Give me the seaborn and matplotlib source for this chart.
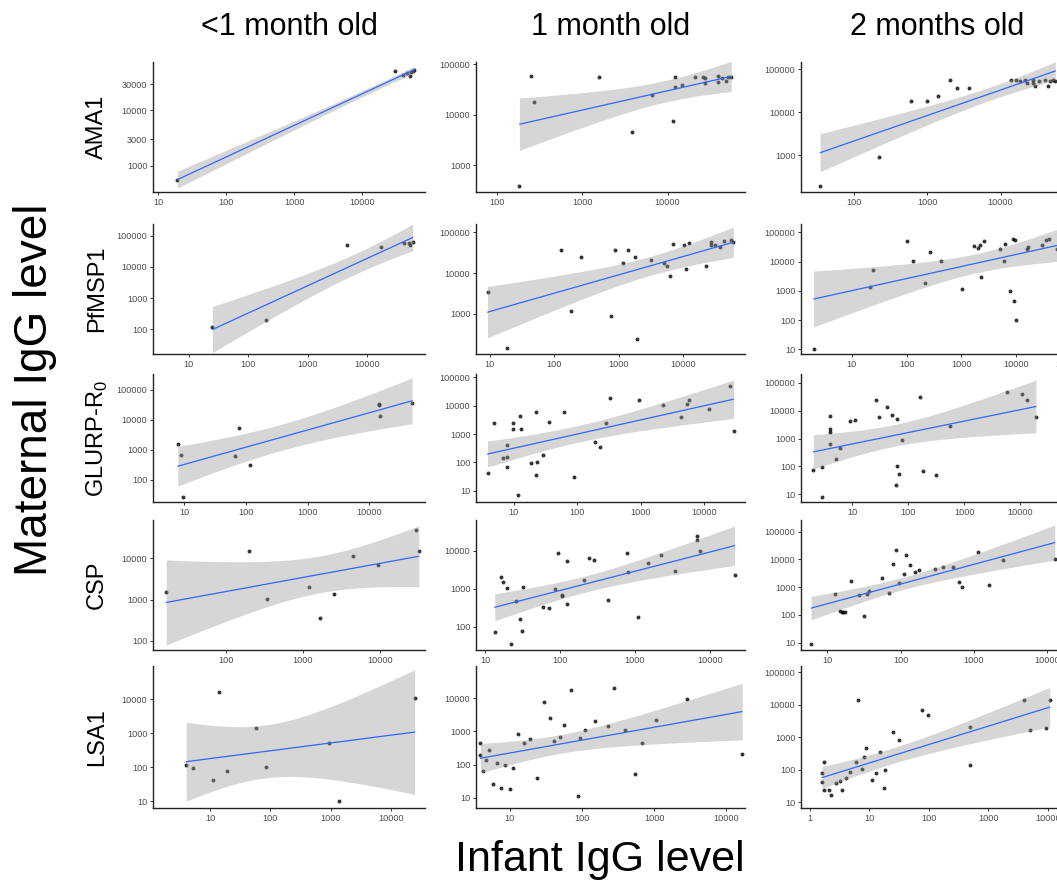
import numpy as np
import pandas as pd
from matplotlib import pyplot as plt
import seaborn as sns

# Maternal vs infant IgG, one panel per antigen (rows) and infant age (columns)

antigens = ['AMA1', 'PfMSP1', 'GLURP-R$_\\mathregular{0}$', 'CSP', 'LSA1']
ages = ['<1 month old', '1 month old', '2 months old']

# AMA1
ama1_lt1_inf = [19, 30000, 40000, 45000, 50000, 52000, 55000, 58000]
ama1_lt1_mat = [545, 51000, 44000, 47000, 42000, 50000, 53000, 55000]
ama1_m1_inf = [182, 250, 270, 1550, 3800, 6500, 11700, 12300, 12300, 14800,
               21000, 26000, 27500, 27500, 39000, 39000, 44000, 48000, 51000, 56000]
ama1_m1_mat = [380, 59000, 17800, 55000, 4600, 24500, 7600, 35000, 56000, 38000,
               56000, 56000, 52000, 43000, 59000, 44000, 54000, 46000, 56000, 56000]
ama1_m2_inf = [34, 214, 600, 1000, 1380, 2000, 2500, 3700, 14000, 16000, 18600,
               21400, 23000, 28000, 28000, 29500, 33000, 40000, 45000, 47000, 52000, 56000]
ama1_m2_mat = [195, 910, 18200, 18200, 24000, 55000, 36000, 37000, 55000, 57500, 54000,
               55000, 48000, 57500, 48000, 42000, 54000, 57500, 40000, 54000, 55000, 54000]

# PfMSP1
msp1_lt1_inf = [25, 200, 4600, 17000, 41000, 51000, 52000, 58000]
msp1_lt1_mat = [120, 200, 51000, 45000, 58000, 60000, 51000, 63000]
msp1_m1_inf = [9.3, 18.6, 129, 182, 263, 760, 870, 1170, 1410, 1780, 1950, 3160, 5000, 5600,
               6200, 7100, 10500, 11200, 12300, 22400, 27000, 27000, 31600, 38000, 43600,
               55000, 60000]
msp1_m1_mat = [3470, 145, 37000, 1150, 24500, 910, 37000, 17400, 36300, 24500, 240, 21400,
               17800, 14500, 8300, 50000, 49000, 12300, 55000, 14500, 59000, 49000, 49000,
               43600, 60000, 63000, 59000]
msp1_m2_inf = [2, 21, 24, 100, 129, 219, 270, 427, 1020, 1700, 2040, 2190, 2240, 2570, 5000,
               5900, 6300, 7600, 8700, 9100, 9500, 10000, 15800, 16600, 29500, 34700, 40700,
               55000]
msp1_m2_mat = [10, 1350, 5400, 51000, 10500, 1860, 21000, 10500, 1120, 34000, 30000, 38000,
               3100, 51000, 27000, 10700, 39000, 1000, 59000, 440, 54000, 98, 26300, 32400,
               38000, 54000, 59000, 26300]

# GLURP-R0
glurp_lt1_inf = [7.8, 8.7, 9.3, 66, 76, 115, 14500, 14500, 14800, 49000]
glurp_lt1_mat = [1550, 650, 26, 600, 5200, 316, 34000, 29500, 13200, 37000]
glurp_m1_inf = [3.9, 4.9, 6.9, 7.8, 7.8, 7.8, 9.8, 9.8, 11.7, 12.6, 12.9, 18.6, 22.4, 23.4,
                22.4, 29.5, 36.3, 63, 89, 190, 229, 288, 331, 955, 2240, 4370, 5250, 5750,
                11700, 25700, 28800]
glurp_m1_mat = [43, 2450, 148, 417, 162, 68, 2450, 1510, 6.9, 4270, 1510, 95, 6170, 100, 36,
                182, 2630, 5890, 31, 513, 363, 2450, 17800, 16200, 10700, 4070, 11700, 15800,
                7400, 49000, 1290]
glurp_m2_inf = [2, 2.9, 2.9, 4, 4, 4, 4, 5, 6, 8.9, 11.2, 26, 29.5, 40.7, 50, 59, 62, 62, 68,
                76, 162, 182, 309, 550, 5750, 10500, 13200, 19000]
glurp_m2_mat = [76, 95, 8.1, 6300, 2190, 1700, 660, 182, 457, 4270, 4680, 23400, 6000, 13200,
                6760, 21, 5250, 102, 54, 870, 30200, 71, 48, 2820, 49000, 38900, 25100, 6000]

# CSP
csp_lt1_inf = [17, 200, 340, 1200, 1660, 2500, 4400, 9300, 29000, 31600]
csp_lt1_mat = [1510, 15100, 1050, 2000, 363, 1350, 11700, 7100, 50000, 15500]
csp_m1_inf = [13.5, 16.2, 17.4, 19.5, 22.4, 25.7, 29.5, 31.6, 32.4, 59, 72, 87, 93, 105, 107,
              123, 123, 209, 245, 282, 437, 794, 813, 1100, 1510, 2240, 3470, 6760, 6760,
              7410, 21400]
csp_m1_mat = [71, 2090, 1510, 1020, 35, 490, 162, 79, 1100, 324, 309, 977, 8900, 708, 661,
              5250, 398, 1700, 6600, 5890, 513, 8710, 2750, 182, 4790, 7590, 2880, 24500,
              19500, 9770, 2240]
csp_m2_inf = [6, 12.6, 14.8, 15.8, 16.2, 17.4, 21, 27, 31.6, 34.7, 37, 56, 69, 78, 87, 95,
              112, 117, 132, 158, 178, 295, 380, 513, 631, 676, 1150, 1580, 2450, 12600]
csp_m2_mat = [9, 560, 138, 123, 123, 123, 1660, 513, 91, 575, 724, 2190, 603, 6760, 22400,
              1450, 2950, 13800, 6300, 3390, 4070, 4570, 5250, 5250, 1480, 1020, 17800, 1200,
              9770, 10000]

# LSA1
lsa1_lt1_inf = [4, 5.2, 11, 14, 19, 58, 85, 930, 1400, 25000]
lsa1_lt1_mat = [115, 93, 41, 16000, 76, 1400, 100, 500, 10, 11000]
lsa1_m1_inf = [3.9, 3.9, 4.2, 4.7, 5.2, 5.9, 6.6, 7.6, 8.5, 10, 11, 12.9, 15.5, 19, 24, 29.5,
               36, 41, 49, 56, 71, 89, 95, 110, 151, 229, 282, 389, 550, 676, 1050, 2880,
               16600]
lsa1_m1_mat = [457, 191, 65, 135, 275, 26, 115, 20, 100, 18, 76, 813, 457, 603, 39, 7590,
               2570, 525, 692, 1550, 17800, 11, 646, 1070, 2040, 1450, 20400, 1070, 52, 457,
               2190, 9330, 204]
lsa1_m2_inf = [1.6, 1.6, 1.7, 1.7, 2.1, 2.3, 2.75, 3.2, 3.5, 4.1, 4.7, 5.9, 6.5, 7.4, 8.1,
               8.7, 11, 12.9, 15, 17.4, 18.2, 24.5, 31.6, 76, 95, 490, 490, 4000, 5000, 9300,
               10700]
lsa1_m2_mat = [78, 42, 23, 170, 23, 17, 38, 45, 23, 55, 83, 170, 13800, 105, 240, 457, 48, 78,
               347, 27, 95, 1410, 813, 6760, 4790, 138, 2040, 13800, 1660, 1900, 13800]

panels = [
    [(ama1_lt1_inf, ama1_lt1_mat), (ama1_m1_inf, ama1_m1_mat), (ama1_m2_inf, ama1_m2_mat)],
    [(msp1_lt1_inf, msp1_lt1_mat), (msp1_m1_inf, msp1_m1_mat), (msp1_m2_inf, msp1_m2_mat)],
    [(glurp_lt1_inf, glurp_lt1_mat), (glurp_m1_inf, glurp_m1_mat), (glurp_m2_inf, glurp_m2_mat)],
    [(csp_lt1_inf, csp_lt1_mat), (csp_m1_inf, csp_m1_mat), (csp_m2_inf, csp_m2_mat)],
    [(lsa1_lt1_inf, lsa1_lt1_mat), (lsa1_m1_inf, lsa1_m1_mat), (lsa1_m2_inf, lsa1_m2_mat)],
]

# axis ranges in log10 units (x, y) per panel
xlims = [[(0.92, 4.92), (1.75, 4.91), (1.27, 4.99)],
         [(0.40, 4.97), (0.79, 4.96), (0.07, 5.04)],
         [(0.49, 4.90), (0.41, 4.64), (0.08, 4.94)],
         [(1.06, 4.58), (0.88, 4.47), (0.64, 4.35)],
         [(0.05, 4.57), (0.53, 4.26), (-0.15, 4.42)]]
ylims = [[(2.52, 4.88), (2.47, 5.04), (2.15, 5.17)],
         [(1.20, 5.38), (2.02, 5.20), (0.84, 5.29)],
         [(1.25, 5.52), (0.61, 5.11), (0.72, 5.32)],
         [(1.78, 4.93), (1.39, 4.81), (0.73, 5.42)],
         [(0.80, 4.98), (0.69, 4.97), (0.82, 5.20)]]
ama1_lt1_yticks = [1000, 3000, 10000, 30000]


def t975(df):
    # Cornish-Fisher approximation of the 97.5% Student t quantile
    z = 1.959964
    return (z + (z**3 + z) / (4 * df) + (5 * z**5 + 16 * z**3 + 3 * z) / (96 * df**2)
            + (3 * z**7 + 19 * z**5 + 17 * z**3 - 15 * z) / (384 * df**3))


def lm_band(x, y, grid):
    # 95% confidence band of the OLS fit, as geom_smooth(method='lm') draws it
    n = len(x)
    b, a = np.polyfit(x, y, 1)
    resid = y - (a + b * x)
    s = np.sqrt(np.sum(resid**2) / (n - 2))
    sxx = np.sum((x - x.mean())**2)
    se = s * np.sqrt(1 / n + (grid - x.mean())**2 / sxx)
    fit = a + b * grid
    return fit - t975(n - 2) * se, fit + t975(n - 2) * se


sns.set_theme(style='white')
plt.rcParams['font.family'] = ['Liberation Sans', 'DejaVu Sans']
plt.rcParams['text.color'] = 'black'
plt.rcParams['mathtext.fontset'] = 'custom'
plt.rcParams['mathtext.rm'] = 'Liberation Sans'

W, H = 1057, 890
fig = plt.figure(figsize=(W / 100, H / 100), dpi=100)

col_left = [153, 476, 801]
col_w = [272, 269, 272]
row_top = [62, 224, 374, 520, 666]
row_bot = [192, 354, 502, 650, 808]

for r in range(5):
    for c in range(3):
        inf, mat = panels[r][c]
        ax = fig.add_axes([col_left[c] / W, 1 - row_bot[r] / H,
                           col_w[c] / W, (row_bot[r] - row_top[r]) / H])
        df = pd.DataFrame({'infant': np.log10(inf), 'maternal': np.log10(mat)})
        sns.regplot(data=df, x='infant', y='maternal', ax=ax, color='black', ci=None,
                    scatter_kws=dict(s=8, linewidths=0),
                    line_kws=dict(color='#3366FF', lw=0.9, zorder=3))
        grid = np.linspace(df['infant'].min(), df['infant'].max(), 100)
        lo, hi = lm_band(df['infant'].values, df['maternal'].values, grid)
        ax.fill_between(grid, lo, hi, color='#999999', alpha=0.4, linewidth=0, zorder=2)
        x0, x1 = xlims[r][c]
        y0, y1 = ylims[r][c]
        ax.set_xlim(x0, x1)
        ax.set_ylim(y0, y1)
        xt = [k for k in range(0, 6) if x0 <= k <= x1]
        ax.set_xticks(xt)
        ax.set_xticklabels([str(10 ** k) for k in xt])
        if r == 0 and c == 0:
            ax.set_yticks(np.log10(ama1_lt1_yticks))
            ax.set_yticklabels([str(v) for v in ama1_lt1_yticks])
        else:
            yt = [k for k in range(0, 6) if y0 <= k <= y1]
            ax.set_yticks(yt)
            ax.set_yticklabels([str(10 ** k) for k in yt])
        ax.set_xlabel('')
        ax.set_ylabel('')
        sns.despine(ax=ax)
        for s in ['left', 'bottom']:
            ax.spines[s].set_color('#222222')
            ax.spines[s].set_linewidth(1.0)
        ax.tick_params(axis='both', which='both', bottom=True, left=True, length=2.5,
                       width=0.7, color='#333333', labelcolor='#4D4D4D', labelsize=6.6, pad=1.5)

for c, t in enumerate(ages):
    fig.text((col_left[c] + col_w[c] / 2) / W, 1 - 27 / H, t, ha='center', va='center',
             fontsize=22)
for r, t in enumerate(antigens):
    fig.text(97 / W, 1 - (row_top[r] + row_bot[r]) / 2 / H, t, rotation=90, ha='center',
             va='center', fontsize=17)

fig.text(35 / W, 1 - 390 / H, 'Maternal IgG level', rotation=90, ha='center', va='center',
         fontsize=33)
fig.text(600 / W, 1 - 860 / H, 'Infant IgG level', ha='center', va='center', fontsize=31)

fig.savefig('out.png', dpi=100)
